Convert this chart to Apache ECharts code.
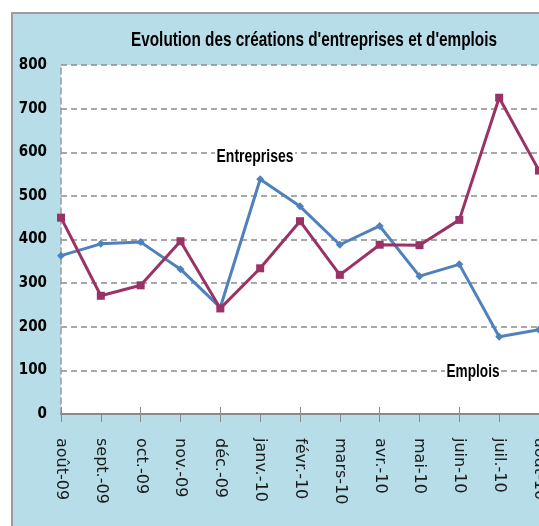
<!DOCTYPE html>
<html>
<head>
<meta charset="utf-8">
<style>
  html, body { margin: 0; padding: 0; background: #fff; }
  #main { width: 539px; height: 526px; }
</style>
<script src="https://cdn.jsdelivr.net/npm/echarts@6/dist/echarts.min.js"></script>
</head>
<body>
<div id="main"></div>
<script>
    // données
    var mois = ['août-09', 'sept.-09', 'oct.-09', 'nov.-09', 'déc.-09', 'janv.-10', 'févr.-10',
                'mars-10', 'avr.-10', 'mai-10', 'juin-10', 'juil.-10', 'août-10'];
    var entreprises = [363, 390, 394, 332, 244, 538, 476, 388, 431, 316, 343, 177, 193];
    var emplois = [450, 271, 295, 396, 242, 334, 442, 319, 388, 387, 445, 725, 558];
    var titre = "Evolution des créations d'entreprises et d'emplois";

    // texte "condensé" : on mesure puis on écrase en largeur
    function largeur(txt, font) {
        var c = document.createElement('canvas').getContext('2d');
        c.font = font;
        return c.measureText(txt).width;
    }
    function texteEtroit(txt, size, cx, cy, w, fond) {
        var font = 'bold ' + size + 'px "Liberation Sans"';
        var sx = w / largeur(txt, font);
        var el = {
            type: 'text',
            x: cx, y: cy,
            scaleX: sx,
            z: 10,
            style: {
                text: txt,
                font: font,
                fill: '#000',
                align: 'center',
                verticalAlign: 'middle'
            }
        };
        if (fond) {
            el.style.backgroundColor = '#fff';
            el.style.padding = [0, 2];
        }
        return el;
    }

    var myChart = echarts.init(document.getElementById('main'));

    var option = {
        animation: false,
        graphic: [
            {
                type: 'rect', z: -10, silent: true,
                shape: { x: 12, y: 13, width: 600, height: 600 },
                style: { fill: '#b7dde8', stroke: '#9c9c9c', lineWidth: 2 }
            },
            texteEtroit(titre, 21, 314, 40, 366, false),
            texteEtroit('Entreprises', 18, 255, 157, 77, true),
            texteEtroit('Emplois', 18, 473, 372, 53, true)
        ],
        grid: {
            left: 61,
            right: 0,
            top: 65,
            bottom: 112,
            outerBoundsMode: 'none',
            containLabel: false,
            show: true,
            backgroundColor: '#fff',
            borderWidth: 0
        },
        xAxis: [
            {
                type: 'category',
                boundaryGap: false,
                data: mois,
                axisLine: { lineStyle: { color: '#8a8a8a', width: 2 } },
                axisTick: { length: 8, lineStyle: { color: '#8a8a8a', width: 1 } },
                axisLabel: {
                    rotate: -90,
                    margin: 24,
                    interval: 0,
                    showMaxLabel: true,
                    hideOverlap: false,
                    color: '#1a1a1a',
                    fontFamily: 'DejaVu Sans',
                    fontSize: 16
                }
            },
            {
                // graduations qui traversent l'axe (style Excel)
                type: 'category',
                boundaryGap: false,
                data: mois,
                position: 'bottom',
                axisLine: { show: false },
                axisTick: { inside: true, length: 7, lineStyle: { color: '#8a8a8a', width: 1 } },
                axisLabel: { show: false }
            }
        ],
        yAxis: {
            type: 'value',
            min: 0,
            max: 800,
            interval: 100,
            axisLine: { show: true, lineStyle: { color: '#9a9a9a', type: [6, 4], width: 1.5 } },
            axisTick: { show: false },
            axisLabel: {
                margin: 14,
                color: '#000',
                fontWeight: 'bold',
                fontFamily: '"Liberation Sans Narrow", "DejaVu Sans Condensed", "Liberation Sans", sans-serif',
                fontSize: 15
            },
            splitLine: { lineStyle: { color: '#8c8c8c', type: [6, 4], width: 1.5 } }
        },
        series: [
            {
                name: 'Entreprises',
                type: 'line',
                data: entreprises,
                symbol: 'diamond',
                symbolSize: 8,
                color: '#4f81bd',
                lineStyle: { width: 3 }
            },
            {
                name: 'Emplois',
                type: 'line',
                data: emplois,
                symbol: 'rect',
                symbolSize: 8,
                color: '#993366',
                lineStyle: { width: 3 }
            }
        ]
    };

    myChart.setOption(option);
</script>
</body>
</html>
